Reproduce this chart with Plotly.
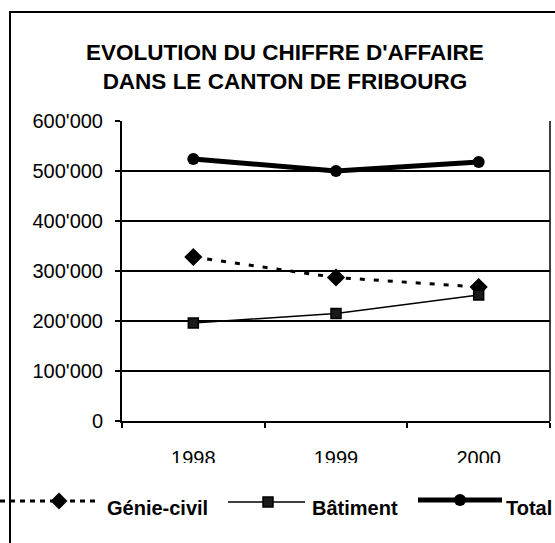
import plotly.graph_objects as go

years = ["1998", "1999", "2000"]
genie_civil = [328000, 287000, 268000]
batiment = [196000, 215000, 252000]
total = [524000, 500000, 518000]
y_tickvals = [0, 100000, 200000, 300000, 400000, 500000, 600000]
y_ticktext = ["0", "100'000", "200'000", "300'000", "400'000", "500'000", "600'000"]

W, H = 555, 543
FONT = "Liberation Sans, Arial, sans-serif"

fig = go.Figure()

fig.add_trace(go.Scatter(x=years, y=genie_civil, mode="lines+markers",
                         line=dict(color="black", width=3, dash="5px,9px"),
                         marker=dict(symbol="diamond", size=14, color="black"),
                         xaxis="x", yaxis="y", showlegend=False))
fig.add_trace(go.Scatter(x=years, y=batiment, mode="lines+markers",
                         line=dict(color="black", width=1.5),
                         marker=dict(symbol="square", size=10, color="#1a1a1a",
                                     line=dict(color="black", width=1.5)),
                         xaxis="x", yaxis="y", showlegend=False))
fig.add_trace(go.Scatter(x=years, y=total, mode="lines+markers",
                         line=dict(color="black", width=5),
                         marker=dict(symbol="circle", size=12, color="black"),
                         xaxis="x", yaxis="y", showlegend=False))

# Legend samples drawn on a full-canvas overlay axis (pixel coordinates)
leg = [
    dict(x=[0, 100], mx=59, y=501, dash="5px,5px", width=3, sym="diamond", size=13, txt="Génie-civil", tx=107),
    dict(x=[228, 305], mx=268, y=502, dash="solid", width=1.5, sym="square", size=10, txt="Bâtiment", tx=312),
    dict(x=[418, 502], mx=460, y=500, dash="solid", width=5, sym="circle", size=12, txt="Total", tx=506),
]
for it in leg:
    fig.add_trace(go.Scatter(x=it["x"], y=[it["y"], it["y"]], mode="lines",
                             line=dict(color="black", width=it["width"], dash=it["dash"]),
                             xaxis="x2", yaxis="y2", showlegend=False, cliponaxis=False))
    fig.add_trace(go.Scatter(x=[it["mx"]], y=[it["y"]], mode="markers",
                             marker=dict(symbol=it["sym"], size=it["size"],
                                         color="#1a1a1a" if it["sym"] == "square" else "black",
                                         line=dict(color="black", width=1.5 if it["sym"] == "square" else 0)),
                             xaxis="x2", yaxis="y2", showlegend=False, cliponaxis=False))

annotations = [
    dict(x=285, y=67, xref="x2", yref="y2", text="<b>EVOLUTION DU CHIFFRE D'AFFAIRE<br>DANS LE CANTON DE FRIBOURG</b>",
         showarrow=False, font=dict(family=FONT, size=22.5, color="black"), xanchor="center", yanchor="middle"),
]
for it in leg:
    annotations.append(dict(x=it["tx"], y=508, xref="x2", yref="y2", text="<b>%s</b>" % it["txt"],
                            showarrow=False, font=dict(family=FONT, size=20, color="black"),
                            xanchor="left", yanchor="middle", xshift=-2))

shapes = [
    dict(type="rect", xref="x2", yref="y2", x0=10, y0=12, x1=565, y1=560,
         line=dict(color="black", width=2), fillcolor="rgba(0,0,0,0)", layer="below"),
    dict(type="line", xref="x2", yref="y2", x0=550, y0=121, x1=550, y1=421,
         line=dict(color="black", width=1.5), layer="above"),
    dict(type="rect", xref="x2", yref="y2", x0=130, y0=463, x1=545, y1=476,
         line=dict(width=0), fillcolor="white", layer="above"),
]

fig.update_layout(
    width=W, height=H,
    margin=dict(l=0, r=0, t=0, b=0, autoexpand=False),
    paper_bgcolor="white", plot_bgcolor="rgba(0,0,0,0)",
    font=dict(family=FONT, color="black"),
    xaxis=dict(domain=[122 / W, 550 / W], anchor="y", type="category", range=[-0.5, 2.5], automargin=False,
               showgrid=False, zeroline=False, showline=True, linecolor="black", linewidth=2,
               ticks="outside", tickson="boundaries", ticklen=5, tickwidth=1.5, tickcolor="black",
               tickfont=dict(family=FONT, size=20, color="black"), ticklabelstandoff=18),
    yaxis=dict(domain=[(H - 421) / H, (H - 121) / H], anchor="x", range=[0, 600000], automargin=False,
               tickvals=y_tickvals, ticktext=y_ticktext,
               showgrid=True, gridcolor="black", gridwidth=1.5, zeroline=False,
               showline=True, linecolor="black", linewidth=2,
               ticks="outside", ticklen=5, tickwidth=1.5, tickcolor="black",
               tickfont=dict(family=FONT, size=20, color="black"), ticklabelstandoff=8),
    xaxis2=dict(domain=[0, 1], anchor="y2", range=[0, W], visible=False, fixedrange=True, automargin=False),
    yaxis2=dict(domain=[0, 1], anchor="x2", range=[H, 0], visible=False, fixedrange=True, automargin=False),
    annotations=annotations,
    shapes=shapes,
    showlegend=False,
)

fig.write_html("out.html", config={"displayModeBar": False},
               post_script="document.body.style.margin='0px';document.body.style.overflow='hidden';")
